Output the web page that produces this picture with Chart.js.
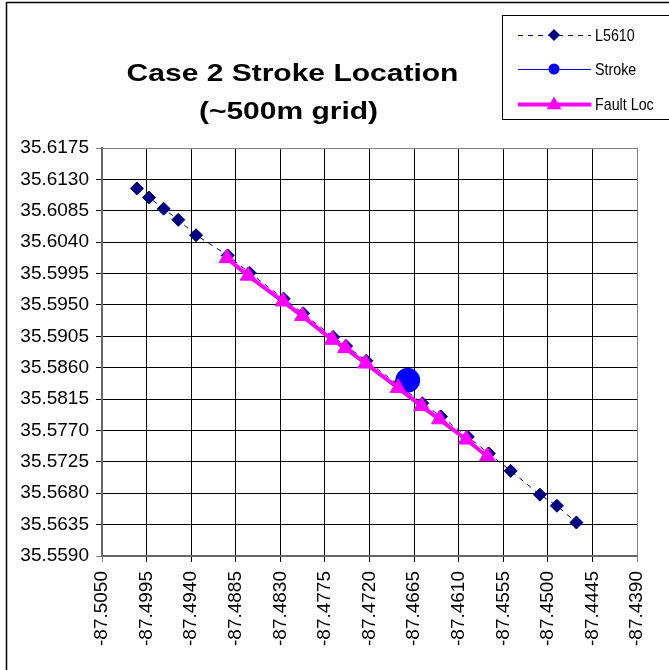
<!DOCTYPE html>
<html>
<head>
<meta charset="utf-8">
<script src="https://cdn.jsdelivr.net/npm/chart.js@4/dist/chart.umd.min.js"></script>
<style>
  html, body { margin: 0; padding: 0; background: #fff; }
  #wrap { position: relative; width: 669px; height: 670px; }
</style>
</head>
<body>
<div id="wrap"><canvas id="chart"></canvas></div>
<script>
// Case 2 - stroke vs. line L5610 (lon / lat)

const titleLines = ['Case 2 Stroke Location', '(~500m grid)'];
const seriesNames = ['L5610', 'Stroke', 'Fault Loc'];

const xTicks = [-87.5050, -87.4995, -87.4940, -87.4885, -87.4830, -87.4775, -87.4720,
                -87.4665, -87.4610, -87.4555, -87.4500, -87.4445, -87.4390];
const yTicks = [35.5590, 35.5635, 35.5680, 35.5725, 35.5770, 35.5815, 35.5860,
                35.5905, 35.5950, 35.5995, 35.6040, 35.6085, 35.6130, 35.6175];

const l5610Lon = [-87.5007, -87.4992, -87.4974, -87.4956, -87.4934, -87.4895, -87.4868,
                  -87.4826, -87.4802, -87.4765, -87.4749, -87.4724, -87.4685, -87.4655,
                  -87.4632, -87.4599, -87.4573, -87.4546, -87.4510, -87.4489, -87.4465];
const l5610Lat = [35.6117, 35.6104, 35.6088, 35.6072, 35.6050, 35.6021, 35.5996,
                  35.5959, 35.5938, 35.5904, 35.5891, 35.5870, 35.5836, 35.5809,
                  35.5790, 35.5761, 35.5737, 35.5712, 35.5678, 35.5662, 35.5638];

const faultLon = [-87.4896, -87.4870, -87.4827, -87.4803, -87.4766, -87.4750,
                  -87.4725, -87.4685, -87.4656, -87.4634, -87.4601, -87.4575];
const faultLat = [35.6017, 35.5992, 35.5955, 35.5934, 35.5900, 35.5888,
                  35.5866, 35.5831, 35.5805, 35.5786, 35.5757, 35.5733];

const strokeLon = [-87.4673];
const strokeLat = [35.5842];

const NAVY = '#000080';
const BLUE = '#0000ff';
const MAGENTA = '#ff00ff';

const toPoints = (xs, ys) => xs.map((x, i) => ({ x: x, y: ys[i] }));

function edgeColor(ctx, n) {
  return (ctx.index === 0 || ctx.index === n - 1) ? '#808080' : '#000';
}

// little marker shapes for the legend box
function marker(ctx, style, x, y, r, color) {
  ctx.save();
  ctx.fillStyle = color;
  ctx.beginPath();
  if (style === 'rectRot') {
    ctx.moveTo(x, y - r); ctx.lineTo(x + r, y); ctx.lineTo(x, y + r); ctx.lineTo(x - r, y);
  } else if (style === 'triangle') {
    ctx.moveTo(x, y - r);
    ctx.lineTo(x + r * 0.866, y + r * 0.5);
    ctx.lineTo(x - r * 0.866, y + r * 0.5);
  } else {
    ctx.arc(x, y, r, 0, Math.PI * 2);
  }
  ctx.closePath();
  ctx.fill();
  ctx.restore();
}

const decor = {
  id: 'decor',
  beforeDraw(chart) {
    const ctx = chart.ctx;
    ctx.save();
    ctx.fillStyle = '#fff';
    ctx.fillRect(0, 0, chart.width, chart.height);
    ctx.strokeStyle = '#000';
    ctx.lineWidth = 1.5;
    ctx.strokeRect(6.5, 2.5, 700, 700);
    ctx.restore();
  },
  afterDraw(chart) {
    const ctx = chart.ctx;
    ctx.save();

    // title, drawn a bit wide like the original
    ctx.fillStyle = '#000';
    ctx.textAlign = 'center';
    ctx.textBaseline = 'alphabetic';
    ctx.font = 'bold 24px Arial, "Liberation Sans", sans-serif';
    ctx.save();
    ctx.scale(1.25, 1);
    ctx.fillText(titleLines[0], 292.5 / 1.25, 80.5);
    ctx.fillText(titleLines[1], 288.5 / 1.25, 118.5);
    ctx.restore();

    // legend box
    ctx.strokeStyle = '#000';
    ctx.lineWidth = 1;
    ctx.strokeRect(502.5, 15.5, 200, 104);

    const rows = [
      { y: 35, color: NAVY, width: 1, dash: [5, 5], style: 'rectRot', r: 6 },
      { y: 69, color: BLUE, width: 1, dash: [], style: 'circle', r: 5.5 },
      { y: 104, color: MAGENTA, width: 4, dash: [], style: 'triangle', r: 8.5 },
    ];
    rows.forEach((row, i) => {
      ctx.save();
      ctx.strokeStyle = row.color;
      ctx.lineWidth = row.width;
      ctx.setLineDash(row.dash);
      ctx.beginPath();
      ctx.moveTo(518, row.y + 0.5);
      ctx.lineTo(591, row.y + 0.5);
      ctx.stroke();
      ctx.restore();
      marker(ctx, row.style, 554, row.y + (row.style === 'triangle' ? 1 : 0), row.r, row.color);
      // narrow text, squeezed by hand
      ctx.save();
      ctx.fillStyle = '#000';
      ctx.textAlign = 'left';
      ctx.textBaseline = 'middle';
      ctx.font = '17px Arial, "Liberation Sans", sans-serif';
      ctx.scale(0.84, 1);
      ctx.fillText(seriesNames[i], 595 / 0.84, row.y + 1);
      ctx.restore();
    });

    ctx.restore();
  }
};

Chart.defaults.font.family = 'Arial, "Liberation Sans", sans-serif';
Chart.defaults.color = '#000';

new Chart(document.getElementById('chart'), {
  type: 'scatter',
  data: {
    datasets: [
      {
        label: seriesNames[0],
        data: toPoints(l5610Lon, l5610Lat),
        showLine: true,
        borderColor: NAVY,
        borderWidth: 1,
        borderDash: [5, 5],
        pointStyle: 'rectRot',
        pointRadius: 6.5,
        pointBackgroundColor: NAVY,
        pointBorderColor: NAVY,
        pointBorderWidth: 1,
        order: 3,
      },
      {
        label: seriesNames[1],
        data: toPoints(strokeLon, strokeLat),
        showLine: false,
        pointStyle: 'circle',
        pointRadius: 12,
        pointBackgroundColor: BLUE,
        pointBorderColor: BLUE,
        pointBorderWidth: 1,
        order: 2,
      },
      {
        label: seriesNames[2],
        data: toPoints(faultLon, faultLat),
        showLine: true,
        borderColor: MAGENTA,
        borderWidth: 4,
        pointStyle: 'triangle',
        pointRadius: 9,
        pointBackgroundColor: MAGENTA,
        pointBorderColor: MAGENTA,
        pointBorderWidth: 1,
        order: 1,
      },
    ],
  },
  options: {
    responsive: true,
    maintainAspectRatio: false,
    animation: false,
    events: [],
    layout: { padding: { top: 148, right: 19, left: 0, bottom: 0 } },
    plugins: {
      legend: { display: false },
      title: { display: false },
      tooltip: { enabled: false },
    },
    scales: {
      x: {
        type: 'linear',
        min: xTicks[0],
        max: xTicks[xTicks.length - 1],
        afterBuildTicks: s => { s.ticks = xTicks.map(v => ({ value: v })); },
        afterFit: s => { s.height = 114; },
        ticks: {
          autoSkip: false,
          maxRotation: 90,
          minRotation: 90,
          padding: 9,
          font: { size: 19 },
          callback: v => v.toFixed(4),
        },
        grid: {
          color: ctx => edgeColor(ctx, xTicks.length),
          lineWidth: 1,
          tickLength: 6,
        },
        border: { color: '#666', width: 2 },
      },
      y: {
        type: 'linear',
        min: yTicks[0],
        max: yTicks[yTicks.length - 1],
        afterBuildTicks: s => { s.ticks = yTicks.map(v => ({ value: v })); },
        afterFit: s => { s.width = 102; },
        ticks: {
          padding: 7,
          font: { size: 19 },
          callback: v => v.toFixed(4),
        },
        grid: {
          color: ctx => edgeColor(ctx, yTicks.length),
          lineWidth: 1,
          tickLength: 6,
        },
        border: { color: '#666', width: 2 },
      },
    },
  },
  plugins: [decor],
});
</script>
</body>
</html>
